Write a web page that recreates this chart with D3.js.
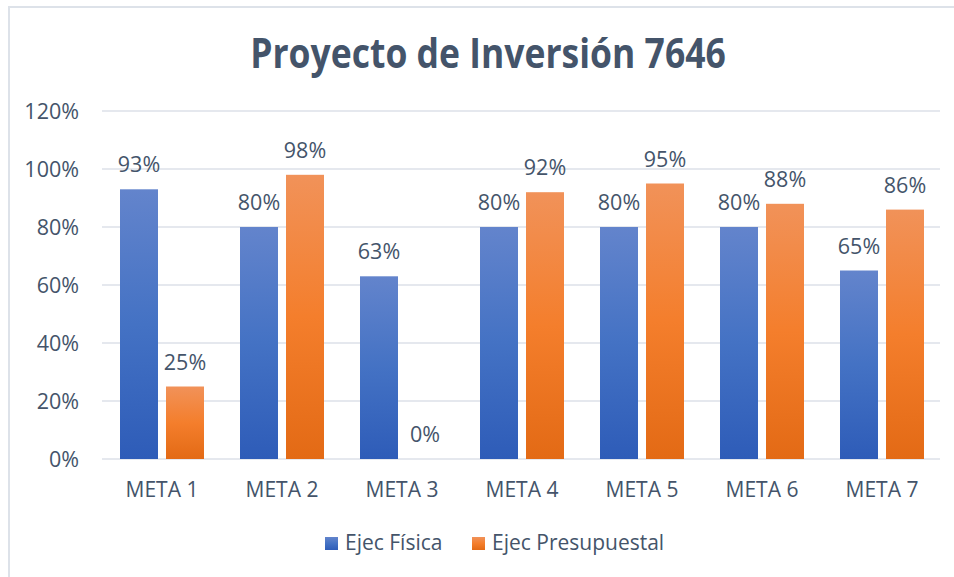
<!DOCTYPE html>
<html><head><meta charset="utf-8">
<script src="https://cdn.jsdelivr.net/npm/d3@7"></script>
<style>
html,body{margin:0;padding:0;background:#fff;}
svg{display:block;}
text{font-family:"Open Sans",sans-serif;}
</style></head>
<body>
<svg id="c" width="954" height="577"></svg>
<script>
const categories = ["META 1","META 2","META 3","META 4","META 5","META 6","META 7"];
const seriesNames = ["Ejec Física","Ejec Presupuestal"];
const fisica = [93,80,63,80,80,80,65];
const presupuestal = [25,98,0,92,95,88,86];
const yTicks = [0,20,40,60,80,100,120];
const title = "Proyecto de Inversión 7646";

const values = [fisica, presupuestal];
const textColor = "#44546A";
const svg = d3.select("#c");

// border (top + left visible)
svg.append("line").attr("x1",8).attr("x2",954).attr("y1",7).attr("y2",7)
  .attr("stroke","#DDE2E9").attr("stroke-width",2);
svg.append("line").attr("x1",9).attr("x2",9).attr("y1",6).attr("y2",577)
  .attr("stroke","#DDE2E9").attr("stroke-width",2);

// gradients
const defs = svg.append("defs");
const grads = [["#6384CC","#4472C4","#2E5CB8"],["#F19259","#F47E2C","#E36A15"]];
grads.forEach((g,i)=>{
  const lg = defs.append("linearGradient").attr("id","g"+i).attr("x1",0).attr("y1",0).attr("x2",0).attr("y2",1);
  lg.append("stop").attr("offset","0%").attr("stop-color",g[0]);
  lg.append("stop").attr("offset","50%").attr("stop-color",g[1]);
  lg.append("stop").attr("offset","100%").attr("stop-color",g[2]);
});

const y = d3.scaleLinear().domain([0,120]).range([459,111]);
const x0 = d3.scaleBand().domain(categories).range([102,942]).padding(0);
const x1 = d3.scaleBand().domain(seriesNames).range([18,102]).paddingInner(8/46).paddingOuter(0);

// gridlines
svg.append("g").selectAll("line").data(yTicks).join("line")
  .attr("x1",102).attr("x2",940)
  .attr("y1",d=>y(d)).attr("y2",d=>y(d))
  .attr("stroke","#DCE1E8").attr("stroke-width",1.5);

// y axis labels
const yAxis = d3.axisLeft(y).tickValues(yTicks).tickFormat(d=>d+"%").tickSize(0).tickPadding(0);
const ya = svg.append("g").attr("transform","translate(79,0)").call(yAxis);
ya.select(".domain").remove();
ya.selectAll("text").attr("fill",textColor).style("font-size","21.5px").style("font-family","'Open Sans',sans-serif").attr("dy","0.36em");

// x axis labels
const xAxis = d3.axisBottom(x0).tickSize(0).tickPadding(0);
const xa = svg.append("g").attr("transform","translate(0,497)").call(xAxis);
xa.select(".domain").remove();
xa.selectAll("text").attr("fill",textColor).style("font-size","21px").style("font-family","'Open Sans',sans-serif").attr("y",0).attr("dy","0");

// bars
const groups = svg.append("g").selectAll("g").data(categories).join("g")
  .attr("transform",d=>`translate(${x0(d)},0)`);
seriesNames.forEach((s,si)=>{
  groups.append("rect")
    .attr("x",x1(s)).attr("width",x1.bandwidth())
    .attr("y",(d,i)=>y(values[si][i])).attr("height",(d,i)=>y(0)-y(values[si][i]))
    .attr("fill",`url(#g${si})`);
  groups.append("text")
    .attr("x",x1(s)+x1.bandwidth()/2)
    .attr("y",(d,i)=>y(values[si][i])-17)
    .attr("text-anchor","middle").attr("fill",textColor).style("font-size","21.5px")
    .text((d,i)=>values[si][i]+"%");
});

// title
svg.append("text").attr("transform","translate(488,68) scale(1,1.15)").attr("text-anchor","middle")
  .attr("fill",textColor).style("font-size","35.5px").style("font-weight","700")
  .text(title);

// legend
const legX = [325,472];
seriesNames.forEach((s,i)=>{
  svg.append("rect").attr("x",legX[i]).attr("y",537).attr("width",13).attr("height",13).attr("fill",`url(#g${i})`);
  svg.append("text").attr("x",legX[i]+20).attr("y",550).attr("fill",textColor).style("font-size","21px").text(s);
});
</script>
</body></html>
